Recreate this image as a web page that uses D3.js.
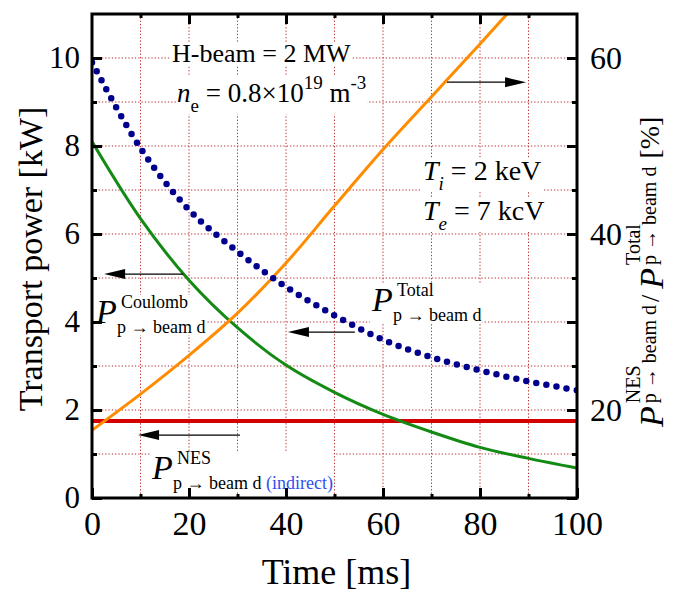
<!DOCTYPE html>
<html>
<head>
<meta charset="utf-8">
<script src="https://cdn.jsdelivr.net/npm/d3@7"></script>
<style>
  body { margin: 0; background: #fff; }
  svg text { font-family: "Liberation Serif", "DejaVu Serif", serif; fill: #000; }
</style>
</head>
<body>
<div id="chart"></div>
<script>
// values, every 10 ms
const time = [0, 10, 20, 30, 40, 50, 60, 70, 80, 90, 100]
const coulomb = [8.1, 6.35, 4.95, 3.87, 3.02, 2.4, 1.9, 1.5, 1.15, 0.9, 0.68]      // kW
const total = [9.9, 7.95, 6.55, 5.6, 4.8, 4.15, 3.6, 3.2, 2.9, 2.65, 2.45]         // kW
const nes = [1.75, 1.75, 1.75, 1.75, 1.75, 1.75, 1.75, 1.75, 1.75, 1.75, 1.75]    // kW
const ratio = [17.7, 21.8, 26.2, 31.0, 36.7, 43.2, 49.6, 55.6, 61.6, 67.7, 73.8]  // %

const xTicks = [0, 20, 40, 60, 80, 100]
const yLeftTicks = [0, 2, 4, 6, 8, 10]
const yRightTicks = [20, 40, 60]

const W = 674, H = 599
const PLOT = { LEFT: 92, RIGHT: 577, TOP: 14, BOTTOM: 498 }
const SERIF = "'Liberation Serif', 'DejaVu Serif', serif"

const svg = d3.select("#chart").append("svg")
    .attr("width", W)
    .attr("height", H)
    .attr("font-family", SERIF)

const x = d3.scaleLinear().domain([0, 100]).range([PLOT.LEFT, PLOT.RIGHT])
const yL = d3.scaleLinear().domain([0, 11]).range([PLOT.BOTTOM, PLOT.TOP])
const yR = d3.scaleLinear().domain([10, 65]).range([PLOT.BOTTOM, PLOT.TOP])

svg.append("defs").append("clipPath").attr("id", "clip")
    .append("rect")
    .attr("x", PLOT.LEFT).attr("y", PLOT.TOP)
    .attr("width", PLOT.RIGHT - PLOT.LEFT).attr("height", PLOT.BOTTOM - PLOT.TOP)

//grid
const grid = svg.append("g")
    .attr("stroke", "#b83030")
    .attr("stroke-width", 1)
    .attr("stroke-dasharray", "1.3,2")
grid.selectAll(".gx").data(d3.range(10, 100, 10)).enter().append("line")
    .attr("x1", d => x(d)).attr("x2", d => x(d))
    .attr("y1", PLOT.TOP).attr("y2", PLOT.BOTTOM)
grid.selectAll(".gy").data(d3.range(1, 11)).enter().append("line")
    .attr("x1", PLOT.LEFT).attr("x2", PLOT.RIGHT)
    .attr("y1", d => yL(d)).attr("y2", d => yL(d))

// annotation layer (white boxes hide the grid behind the text)
const notes = svg.append("g")

function piece(g, px, py, str, size, opts = {}) {
    return g.append("text")
        .attr("x", px).attr("y", py)
        .attr("font-size", size)
        .attr("font-style", opts.italic ? "italic" : null)
        .style("fill", opts.fill || "#000")
        .text(str)
}

function boxed(build) {
    const g = notes.append("g")
    build(g)
    const b = g.node().getBBox()
    g.insert("rect", ":first-child")
        .attr("x", b.x - 1).attr("y", b.y + 3)
        .attr("width", b.width + 2).attr("height", b.height - 5)
        .attr("fill", "#fff")
    return g
}

// H-beam text
boxed(g => {
    piece(g, 172, 62, "H-beam = 2 MW", 26)
})
boxed(g => {
    const t = g.append("text").attr("x", 177).attr("y", 102).attr("font-size", 27)
    t.append("tspan").attr("font-style", "italic").text("n")
    t.append("tspan").attr("font-size", 19).attr("dy", 10).text("e")
    t.append("tspan").attr("dy", -10).text(" = 0.8\u00d710")
    t.append("tspan").attr("font-size", 19).attr("dy", -13).text("19")
    t.append("tspan").attr("dy", 13).text(" m")
    t.append("tspan").attr("font-size", 19).attr("dy", -13).text("-3")
})
boxed(g => {
    const t = g.append("text").attr("x", 423).attr("y", 180).attr("font-size", 28)
    t.append("tspan").attr("font-style", "italic").text("T")
    t.append("tspan").attr("font-style", "italic").attr("font-size", 19).attr("dy", 10).text("i")
    t.append("tspan").attr("dy", -10).text(" = 2 keV")
})
boxed(g => {
    const t = g.append("text").attr("x", 423).attr("y", 220).attr("font-size", 28)
    t.append("tspan").attr("font-style", "italic").text("T")
    t.append("tspan").attr("font-style", "italic").attr("font-size", 19).attr("dy", 10).text("e")
    t.append("tspan").attr("dy", -10).text(" = 7 kcV")
})

// P labels: big italic P with stacked super and subscript
function pLabel(px, py, sup, sub, extra) {
    return boxed(g => {
        piece(g, px, py, "P", 34, { italic: true })
        piece(g, px + 25, py - 15, sup, 18)
        const s = piece(g, px + 21, py + 10, sub, 18)
        if (extra) {
            s.append("tspan").style("fill", "#3050f0").text(" " + extra)
        }
    })
}
pLabel(96, 323, "Coulomb", "p \u2192 beam d")
pLabel(372, 311, "Total", "p \u2192 beam d")
pLabel(152, 479, "NES", "p \u2192 beam d", "(indirect)")

//curves
const curves = svg.append("g").attr("clip-path", "url(#clip)")

const lineL = vals => d3.line()
    .x((d, i) => x(time[i]))
    .y(d => yL(d))
    .curve(d3.curveCatmullRom)(vals)

curves.append("path")
    .attr("d", lineL(nes))
    .attr("fill", "none").attr("stroke", "#d40000").attr("stroke-width", 4)

curves.append("path")
    .attr("d", lineL(coulomb))
    .attr("fill", "none").attr("stroke", "#138a13").attr("stroke-width", 3)

curves.append("path")
    .attr("d", d3.line()
        .x((d, i) => x(time[i]))
        .y(d => yR(d))
        .curve(d3.curveCatmullRom)(ratio))
    .attr("fill", "none").attr("stroke", "#ff8c00").attr("stroke-width", 3)

curves.append("path")
    .attr("d", lineL(total))
    .attr("fill", "none").attr("stroke", "#00008c").attr("stroke-width", 6.5)
    .attr("stroke-linecap", "round")
    .attr("stroke-dasharray", "0,10.2")

// arrows pointing to the axis each curve belongs to
const arrows = [
    { y: 9.45, from: 73.2, to: 89.5 },
    { y: 5.09, from: 18.8, to: 2.5 },
    { y: 3.77, from: 54.2, to: 40.4 },
    { y: 1.43, from: 30.5, to: 9.5 }
]
arrows.forEach(a => {
    const yy = yL(a.y), x0 = x(a.from), x1 = x(a.to)
    const dir = Math.sign(x1 - x0)
    svg.append("line")
        .attr("x1", x0).attr("x2", x1 - dir * 10)
        .attr("y1", yy).attr("y2", yy)
        .attr("stroke", "#000").attr("stroke-width", 1.3)
    svg.append("path")
        .attr("d", `M${x1},${yy} L${x1 - dir * 21},${yy - 5} L${x1 - dir * 21},${yy + 5} Z`)
        .attr("fill", "#000")
})

// axes: inward ticks, major and minor
function styleAxis(g, size) {
    g.attr("font-family", SERIF)
    g.select(".domain").remove()
    g.selectAll(".tick line").attr("stroke", "#000").attr("stroke-width", 3)
    g.selectAll("text").attr("font-size", size)
}

svg.append("g").attr("transform", `translate(0,${PLOT.BOTTOM})`)
    .call(d3.axisBottom(x).tickValues(d3.range(10, 100, 20)).tickSize(-4).tickFormat("").tickSizeOuter(0))
    .call(g => styleAxis(g, 34))
svg.append("g").attr("transform", `translate(0,${PLOT.BOTTOM})`)
    .call(d3.axisBottom(x).tickValues(xTicks).tickSize(-10).tickPadding(13).tickSizeOuter(0))
    .call(g => styleAxis(g, 34))

svg.append("g").attr("transform", `translate(0,${PLOT.TOP})`)
    .call(d3.axisTop(x).tickValues(d3.range(10, 100, 20)).tickSize(-4).tickFormat("").tickSizeOuter(0))
    .call(g => styleAxis(g, 34))
svg.append("g").attr("transform", `translate(0,${PLOT.TOP})`)
    .call(d3.axisTop(x).tickValues(d3.range(20, 100, 20)).tickSize(-10).tickFormat("").tickSizeOuter(0))
    .call(g => styleAxis(g, 34))

svg.append("g").attr("transform", `translate(${PLOT.LEFT},0)`)
    .call(d3.axisLeft(yL).tickValues(d3.range(1, 11, 2)).tickSize(-5).tickFormat("").tickSizeOuter(0))
    .call(g => styleAxis(g, 31))
svg.append("g").attr("transform", `translate(${PLOT.LEFT},0)`)
    .call(d3.axisLeft(yL).tickValues(yLeftTicks).tickSize(-10).tickPadding(12).tickSizeOuter(0))
    .call(g => styleAxis(g, 31))

svg.append("g").attr("transform", `translate(${PLOT.RIGHT},0)`)
    .call(d3.axisRight(yR).tickValues(d3.range(15, 65, 10)).tickSize(-5).tickFormat("").tickSizeOuter(0))
    .call(g => styleAxis(g, 32))
svg.append("g").attr("transform", `translate(${PLOT.RIGHT},0)`)
    .call(d3.axisRight(yR).tickValues([10, 30, 50]).tickSize(-10).tickFormat("").tickSizeOuter(0))
    .call(g => styleAxis(g, 32))
svg.append("g").attr("transform", `translate(${PLOT.RIGHT},0)`)
    .call(d3.axisRight(yR).tickValues(yRightTicks).tickSize(-10).tickPadding(13).tickSizeOuter(0))
    .call(g => styleAxis(g, 32))

// frame
svg.append("rect")
    .attr("x", PLOT.LEFT).attr("y", PLOT.TOP)
    .attr("width", PLOT.RIGHT - PLOT.LEFT).attr("height", PLOT.BOTTOM - PLOT.TOP)
    .attr("fill", "none").attr("stroke", "#000").attr("stroke-width", 3)

//axis labels
svg.append("text")
    .attr("x", (PLOT.LEFT + PLOT.RIGHT) / 2 + 2)
    .attr("y", 584)
    .attr("text-anchor", "middle")
    .attr("font-size", 36)
    .text("Time [ms]")

svg.append("text")
    .attr("transform", "translate(42,259) rotate(-90)")
    .attr("text-anchor", "middle")
    .attr("font-size", 34)
    .text("Transport power [kW]")

// right label: P^NES_sub / P^Total_sub [%], rotated
const rl = svg.append("g").attr("transform", "translate(663,427) rotate(-90)")
let cx = 0
function rPiece(str, dy, size, italic) {
    const t = rl.append("text").attr("x", cx).attr("y", dy)
        .attr("font-size", size)
        .attr("font-style", italic ? "italic" : null)
        .text(str)
    return t.node().getComputedTextLength()
}
function rP(sup) {
    const start = cx
    const w = rPiece("P", 0, 34, true)
    cx = start + w + 3
    const a = rPiece(sup, -23, 20)
    const b = rPiece("p \u2192 beam d", -7, 20)
    cx = start + w + 3 + Math.max(a, b)
}
rP("NES")
cx += 3
cx += rPiece("/", -4, 26) + 6
rP("Total")
cx += 8
rPiece("[%]", -4, 28)
</script>
</body>
</html>
